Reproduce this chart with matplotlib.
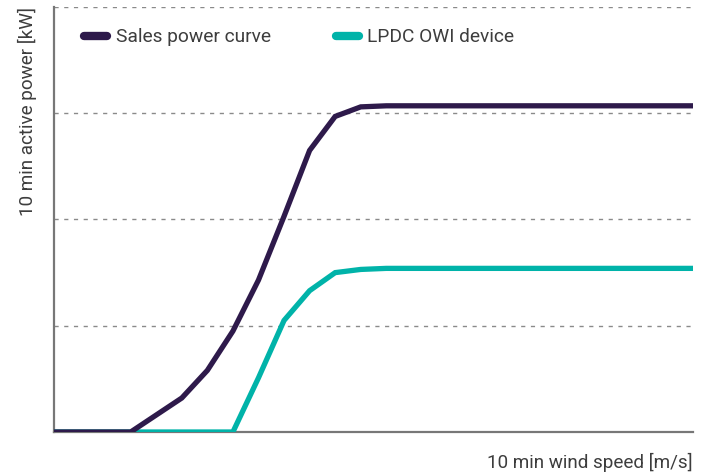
import matplotlib
matplotlib.use("Agg")
import matplotlib.pyplot as plt
from matplotlib.lines import Line2D

wind_speed = list(range(0, 26))
sales_power = [0, 0, 0, 0, 0.16, 0.32, 0.58, 0.95, 1.43, 2.03, 2.65, 2.97, 3.06, 3.07,
               3.07, 3.07, 3.07, 3.07, 3.07, 3.07, 3.07, 3.07, 3.07, 3.07, 3.07, 3.07]
lpdc_power = [0, 0, 0, 0, 0, 0, 0, 0, 0.51, 1.05, 1.33, 1.5, 1.53, 1.54,
              1.54, 1.54, 1.54, 1.54, 1.54, 1.54, 1.54, 1.54, 1.54, 1.54, 1.54, 1.54]
series_names = ["Sales power curve", "LPDC OWI device"]
grid_levels = [1, 2, 3, 4]

purple = "#2e1a4b"
teal = "#00b3a9"
text_color = "#3d3d3d"

plt.rcParams['font.family'] = ['Roboto', 'DejaVu Sans']

fig = plt.figure(figsize=(7.09, 4.74), dpi=100)
ax = fig.add_axes([54/709, 42/474, (693-54)/709, (432-7)/474])

for lvl in grid_levels:
    ax.axhline(lvl, color="#8a8a8a", lw=1.0, ls=(0, (3, 4)), zorder=1)

ax.plot(wind_speed, lpdc_power, color=teal, lw=3.8, solid_joinstyle='miter', zorder=3)
ax.plot(wind_speed, sales_power, color=purple, lw=3.8, solid_joinstyle='miter', zorder=4)

ax.set_xlim(0, 25)
ax.set_ylim(0, 4)
ax.set_xticks([])
ax.set_yticks([])
for s in ["top", "right"]:
    ax.spines[s].set_visible(False)
for s in ["left", "bottom"]:
    ax.spines[s].set_color("#777777")
    ax.spines[s].set_linewidth(1.6)

ax.set_ylabel("10 min active power [kW]", loc="top", fontsize=13.6, color=text_color, labelpad=12)
ax.set_xlabel("10 min wind speed [m/s]", loc="right", fontsize=13.6, color=text_color, labelpad=15)

handles = [Line2D([0], [0], color=purple, lw=6, solid_capstyle='round'),
           Line2D([0], [0], color=teal, lw=6, solid_capstyle='round')]
leg = ax.legend(handles, series_names, loc="upper left", bbox_to_anchor=(0.02, 0.99),
                ncol=2, frameon=False, fontsize=13.8, handlelength=1.2,
                handletextpad=0.45, columnspacing=3.4, labelcolor=text_color)

fig.savefig("out.png", dpi=100)
